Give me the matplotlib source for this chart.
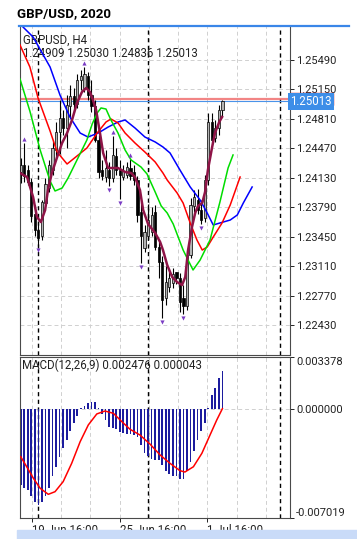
import matplotlib
matplotlib.use("Agg")
import matplotlib.pyplot as plt
import matplotlib.transforms as mtransforms
from matplotlib.lines import Line2D
from matplotlib.patches import Rectangle

plt.rcParams['font.family'] = ['Roboto', 'DejaVu Sans']

# H4 bars (index 0 = first visible bar)
opens = [1.24199, 1.24279, 1.24222, 1.24083, 1.23714, 1.23530, 1.23461, 1.23841, 1.24014, 1.24222,
         1.24452, 1.24660, 1.24821, 1.24706, 1.24960, 1.25075, 1.24983, 1.25259, 1.25167, 1.25306,
         1.25086, 1.24960, 1.24568, 1.24222, 1.24141, 1.24222, 1.24130, 1.24383, 1.24222, 1.24141,
         1.24164, 1.24245, 1.24199, 1.24106, 1.23737, 1.23322, 1.23461, 1.23507, 1.23737, 1.23334,
         1.23161, 1.22746, 1.22873, 1.22919, 1.23046, 1.22976, 1.22746, 1.22654, 1.23242, 1.23807,
         1.23876, 1.23761, 1.23668, 1.24106, 1.24775, 1.24591, 1.24706, 1.24909]
highs = [1.24360, 1.24533, 1.24279, 1.24130, 1.23818, 1.23622, 1.23876, 1.24130, 1.24337, 1.24568,
         1.24775, 1.25029, 1.24914, 1.25086, 1.25202, 1.25167, 1.25329, 1.25375, 1.25409, 1.25352,
         1.25259, 1.25029, 1.24625, 1.24337, 1.24452, 1.24314, 1.24614, 1.24475, 1.24337, 1.24279,
         1.24314, 1.24349, 1.24279, 1.24153, 1.23850, 1.23588, 1.23830, 1.23800, 1.23818, 1.23415,
         1.23230, 1.23120, 1.23069, 1.23092, 1.23050, 1.23034, 1.22896, 1.23299, 1.23899, 1.23991,
         1.24000, 1.23876, 1.24164, 1.24879, 1.24879, 1.24798, 1.24971, 1.25030]
lows = [1.24072, 1.24083, 1.24049, 1.23622, 1.23461, 1.23345, 1.23415, 1.23807, 1.23968, 1.24164,
        1.24360, 1.24410, 1.24625, 1.24475, 1.24821, 1.24890, 1.24937, 1.25144, 1.25121, 1.25029,
        1.24890, 1.24545, 1.24130, 1.24106, 1.24083, 1.24037, 1.24083, 1.24164, 1.23887, 1.24106,
        1.24130, 1.24106, 1.24049, 1.23622, 1.23150, 1.23276, 1.23415, 1.23461, 1.23299, 1.22976,
        1.22515, 1.22665, 1.22815, 1.22861, 1.22907, 1.22584, 1.22561, 1.22607, 1.23207, 1.23737,
        1.23714, 1.23599, 1.23622, 1.24049, 1.24510, 1.24545, 1.24625, 1.24836]
closes = [1.24279, 1.24153, 1.24083, 1.23691, 1.23530, 1.23438, 1.23853, 1.24060, 1.24279, 1.24475,
          1.24660, 1.24821, 1.24706, 1.24971, 1.25075, 1.24983, 1.25259, 1.25306, 1.25329, 1.25086,
          1.24960, 1.24568, 1.24199, 1.24153, 1.24245, 1.24130, 1.24395, 1.24222, 1.24164, 1.24210,
          1.24256, 1.24153, 1.24106, 1.23703, 1.23461, 1.23507, 1.23645, 1.23703, 1.23334, 1.23161,
          1.22723, 1.22930, 1.22976, 1.23023, 1.22976, 1.22700, 1.22654, 1.23242, 1.23818, 1.23910,
          1.23761, 1.23645, 1.24106, 1.24775, 1.24568, 1.24706, 1.24914, 1.25013]
bars = list(range(len(closes)))

fractal_up = [1, 18, 26, 31]
fractal_down = [5, 25, 28, 34, 40, 46, 51]

# alligator lines (jaw / teeth / lips) and the short MA, read as (bar, price)
jaw_x = [-0.2, 3.5, 8.3, 11.1, 13.9, 16.8, 19.0, 21.9, 24.7, 27.5, 29.5, 32.3, 35.1, 38.0, 40.2,
         42.2, 45.0, 47.9, 50.7, 52.7, 54.4, 56.3, 59.2, 61.2, 62.9, 65.4]
jaw_y = [1.25905, 1.25755, 1.25409, 1.25086, 1.24833, 1.24648, 1.24602, 1.24648, 1.24717, 1.24775,
         1.24798, 1.24706, 1.24602, 1.24545, 1.24487, 1.24418, 1.24222, 1.24026, 1.23876, 1.23726,
         1.23588, 1.23611, 1.23645, 1.23703, 1.23841, 1.24026]
teeth_x = [-0.2, 2.6, 4.9, 8.3, 10.3, 13.1, 15.9, 18.7, 21.6, 24.1, 25.5, 27.5, 29.5, 32.3, 35.1,
           38.0, 40.2, 41.4, 44.2, 45.9, 47.9, 49.8, 51.3, 52.7, 54.4, 56.9, 59.2, 62.0]
teeth_y = [1.25663, 1.25409, 1.25052, 1.24671, 1.24429, 1.24291, 1.24383, 1.24475, 1.24648, 1.24775,
           1.24810, 1.24764, 1.24648, 1.24533, 1.24429, 1.24314, 1.24187, 1.24106, 1.23957, 1.23841,
           1.23611, 1.23415, 1.23299, 1.23334, 1.23449, 1.23611, 1.23818, 1.24141]
lips_x = [-0.2, 2.6, 5.5, 8.3, 9.7, 11.7, 13.4, 15.9, 18.7, 20.2, 21.6, 22.7, 24.1, 25.5, 27.5,
          29.5, 31.2, 34.0, 35.7, 38.0, 39.7, 41.4, 43.1, 45.9, 48.7, 50.7, 53.5, 56.3, 58.6, 60.0]
lips_y = [1.25271, 1.24900, 1.24452, 1.24095, 1.23980, 1.24014, 1.24130, 1.24337, 1.24568, 1.24752,
          1.24879, 1.24937, 1.24925, 1.24798, 1.24648, 1.24452, 1.24337, 1.24256, 1.24176, 1.23968,
          1.23807, 1.23726, 1.23599, 1.23299, 1.23069, 1.23184, 1.23415, 1.23853, 1.24245, 1.24395]
ma_x = [-0.2, 1.8, 3.5, 4.6, 5.7, 6.9, 7.7, 8.8, 10.3, 11.7, 13.1, 14.5, 15.9, 17.3, 18.5, 19.6,
        20.4, 21.3, 22.4, 23.3, 24.7, 27.5, 29.5, 31.2, 32.3, 33.7, 34.6, 36.0, 38.0, 39.4, 40.2,
        41.4, 42.8, 44.2, 45.6, 46.5, 47.3, 48.4, 49.3, 50.1, 51.3, 52.1, 52.9, 54.1, 54.9, 56.1, 56.9]
ma_y = [1.24187, 1.24140, 1.23910, 1.23680, 1.23622, 1.23760, 1.23991, 1.24187, 1.24372, 1.24533,
        1.24648, 1.24798, 1.24994, 1.25121, 1.25167, 1.25121, 1.25029, 1.24914, 1.24648, 1.24418,
        1.24245, 1.24245, 1.24199, 1.24187, 1.24140, 1.23991, 1.23760, 1.23599, 1.23495, 1.23392,
        1.23299, 1.23126, 1.22988, 1.22930, 1.22896, 1.22988, 1.23299, 1.23564, 1.23726, 1.23807,
        1.23841, 1.23968, 1.24222, 1.24487, 1.24648, 1.24775, 1.24833]

bid = 1.25013
ask = 1.25044

# MACD(12,26,9)
macd_hist = [-4.9, -5.1, -5.2, -5.6, -6.0, -6.2, -6.0, -5.6, -5.1, -4.3,
             -3.7, -3.1, -2.5, -2.0, -1.4, -0.9, -0.4, 0.1, 0.2, 0.4,
             0.5, 0.5, 0.1, -0.3, -0.7, -1.15, -1.2, -1.3, -1.45, -1.55,
             -1.6, -1.6, -1.65, -1.8, -2.3, -2.8, -3.0, -3.2, -3.3, -3.3,
             -3.6, -4.0, -4.2, -4.3, -4.3, -4.5, -4.5, -4.0, -3.4, -2.7,
             -2.0, -1.4, -0.9, 0.1, 0.9, 1.4, 2.0, 2.476]
macd_hist = [v / 1000 for v in macd_hist]
sig_x = [0, 1.7, 3.6, 5.5, 7.8, 9.7, 12.0, 14.4, 16.8, 19.1, 21.5, 23.8, 26.2, 28.6, 30.9,
         33.7, 36.6, 39.4, 42.2, 45.0, 46.4, 48.8, 51.2, 53.5, 55.4, 57.0]
sig_y = [-3.06, -3.71, -4.46, -5.10, -5.49, -5.32, -4.67, -3.49, -2.09, -1.01, -0.30, -0.11,
         -0.26, -0.80, -1.29, -1.66, -2.26, -2.95, -3.49, -3.96, -4.05, -3.71, -2.84, -1.66,
         -0.69, 0.043]
sig_y = [v / 1000 for v in sig_y]

price_ticks = [1.22430, 1.22770, 1.23110, 1.23450, 1.23790, 1.24130, 1.24470, 1.24810, 1.25150, 1.25490]
macd_ticks = [-0.007019, 0.0, 0.003378]
grid_x = [3.1, 11.38, 19.66, 27.94, 36.22, 44.5, 52.78, 61.06, 69.34]
label_x = [3.1, 27.94, 52.78]
time_labels = ["19 Jun 16:00", "25 Jun 16:00", "1 Jul 16:00"]
week_sep = [5.0, 36.0, 73.3]

W, H = 357, 539
fig = plt.figure(figsize=(W / 100, H / 100), dpi=100)
ax = fig.add_axes([20 / W, 1 - 355 / H, 270 / W, 329 / H])
axm = fig.add_axes([20 / W, 1 - 518 / H, 270 / W, 161 / H])

edge = "#4a4a4a"
gridc = "#d0d0d0"
for a in (ax, axm):
    a.set_xlim(-0.2, 76.1)
    for gx in grid_x:
        a.axvline(gx, color=gridc, lw=0.7, ls=(0, (4, 3)), zorder=0)
    for sx in week_sep:
        a.axvline(sx, color="black", lw=1.0, ls=(0, (3, 2.5)), zorder=1)
    for s in a.spines.values():
        s.set_color(edge)
        s.set_linewidth(0.8)
    a.yaxis.tick_right()
    a.tick_params(axis="y", length=3, width=0.7, pad=1.5, labelsize=8, colors="#222222")

# main price panel
for p in price_ticks:
    ax.axhline(p, color=gridc, lw=0.7, ls=(0, (4, 3)), zorder=0)
ax.set_ylim(1.22089, 1.25882)
ax.set_yticks(price_ticks)
ax.set_yticklabels([f"{p:.5f}" for p in price_ticks])
ax.set_xticks([])
ax.spines["top"].set_visible(False)

ax.axhline(ask, color="#f07070", lw=1.6, alpha=0.85, zorder=2)
ax.axhline(bid, color="#4a94ea", lw=0.8, zorder=2)

for i in bars:
    o, hi, lo, c = opens[i], highs[i], lows[i], closes[i]
    ax.vlines(i, lo, hi, color="black", lw=0.8, zorder=3)
    bull = c >= o
    ax.bar(i, max(abs(c - o), 0.00002), bottom=min(o, c), width=0.62,
           color="#b4b4b4" if bull else "black", edgecolor="black", lw=0.5, zorder=4)

ax.plot(jaw_x, jaw_y, color="#0000ff", lw=1.1, zorder=5)
ax.plot(teeth_x, teeth_y, color="#ff0000", lw=1.1, zorder=5)
ax.plot(lips_x, lips_y, color="#00dd00", lw=1.1, zorder=5)
ax.plot(ma_x, ma_y, color="#8e1447", lw=1.8, zorder=6)

off = 0.00048
ax.scatter(fractal_up, [highs[i] + off for i in fractal_up], marker="^", s=9,
           color="#7a3cc4", lw=0, zorder=6)
ax.scatter(fractal_down, [lows[i] - off for i in fractal_down], marker="v", s=9,
           color="#7a3cc4", lw=0, zorder=6)

# ask label (mostly hidden) behind the bid label on the price scale
blend = mtransforms.blended_transform_factory(ax.transAxes, ax.transData)
box_h = 0.00138
ax.add_patch(Rectangle((1.0, ask - box_h / 2), 43 / 270, box_h, transform=blend,
                       color="#e01010", clip_on=False, zorder=7))
ax.text(1.0, bid, "1.25013", transform=blend, ha="left", va="center", fontsize=8.3,
        color="white", clip_on=False, zorder=8,
        bbox=dict(boxstyle="square,pad=0.2", fc="#3d8ee8", ec="none"))

ax.text(0.011, 0.957, "GBPUSD, H4", transform=ax.transAxes, fontsize=8.3, va="center", color="#222222")
ax.text(0.011, 0.915, f"{opens[-1]:.5f} {highs[-1]:.5f} {lows[-1]:.5f} {closes[-1]:.5f}",
        transform=ax.transAxes, fontsize=8.3, va="center", color="#222222")

# MACD panel
axm.axhline(0, color=gridc, lw=0.7, ls=(0, (4, 3)), zorder=0)
axm.bar(bars, macd_hist, width=0.48, color="#1c1c9e", zorder=2)
axm.plot(sig_x, sig_y, color="#ff0000", lw=1.1, zorder=3)
axm.set_ylim(-0.007019, 0.003378)
axm.set_yticks(macd_ticks)
axm.set_yticklabels([f"{v:.6f}" for v in macd_ticks])
labs = axm.get_yticklabels()
labs[0].set_va("bottom")
labs[2].set_va("top")
axm.set_xticks(label_x)
axm.set_xticklabels(time_labels, ha="left")
axm.tick_params(axis="x", length=3, width=0.7, pad=1, labelsize=8.3, colors="#222222")
axm.text(0.006, 0.946, f"MACD(12,26,9) {macd_hist[-1]:.6f} {sig_y[-1]:.6f}",
         transform=axm.transAxes, fontsize=8.3, va="center", color="#222222")

fig.text(17 / W, 1 - 14 / H, "GBP/USD, 2020", fontsize=9.5, fontweight="bold", va="center")
fig.add_artist(Line2D([19 / W, 349 / W], [1 - 25.7 / H] * 2, color="#3a86e8", lw=1.6))
fig.add_artist(Rectangle((17 / W, 0), 1 - 17 / W, 9 / H, transform=fig.transFigure,
                         color="#c9dbf8", zorder=10))

fig.savefig("out.png", dpi=100)
